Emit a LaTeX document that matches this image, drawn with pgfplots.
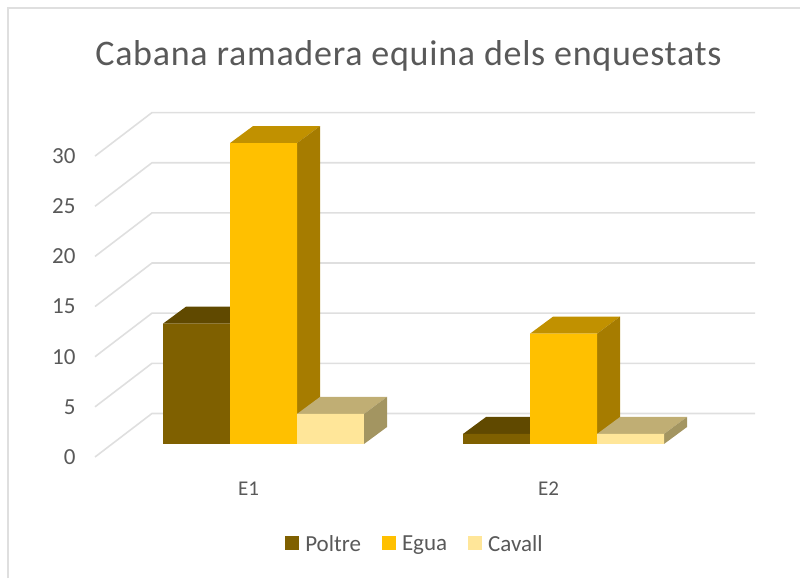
\documentclass[border=0pt]{standalone}
\usepackage{pgfplots}
\pgfplotsset{compat=1.18}
\usepackage{fontspec}
\setmainfont{Carlito}
\definecolor{txt}{HTML}{595959}
\definecolor{gridc}{HTML}{DFDFDF}
\definecolor{pf}{HTML}{7F6000}\definecolor{pt}{HTML}{604900}\definecolor{ps}{HTML}{4F3C00}
\definecolor{ef}{HTML}{FFC000}\definecolor{et}{HTML}{C19100}\definecolor{es}{HTML}{A67C00}
\definecolor{cf}{HTML}{FFE699}\definecolor{ct}{HTML}{C0AE74}\definecolor{cs}{HTML}{A39561}
\begin{document}
\begin{tikzpicture}[x=1pt,y=1pt]
\draw[gridc,line width=1.5pt] (8,0)--(8,570)--(800,570);
\begin{axis}[
  at={(95pt,121pt)},anchor=south west,
  scale only axis,width=660pt,height=351.05pt,
  xmin=-0.5617,xmax=1.6383,ymin=0,ymax=35,clip=false,
  axis line style={draw=none},tick style={draw=none},
  xtick={0,1},xticklabels={E1,E2},
  ytick={0,5,10,15,20,25,30},
  /pgf/number format/assume math mode=true,
  ticklabel style={font=\fontsize{23}{23}\selectfont,text=txt},
  xticklabel style={font=\fontsize{21}{21}\selectfont,text=txt,yshift=-21pt,xshift=-15pt},
  yticklabel style={xshift=-16pt},
  title={\addfontfeatures{LetterSpace=2}Cabana ramadera equina dels enquestats},
  title style={font=\fontsize{36}{36}\selectfont,text=txt,at={(0.475,1)},anchor=base,yshift=34pt},
  legend style={at={(320pt,-87pt)},anchor=center,draw=none,fill=none,legend columns=3,
    font=\fontsize{23}{23}\selectfont,text=txt,
    /tikz/every odd column/.style={column sep=4pt},
    /tikz/every even column/.style={column sep=19pt}},
  legend cell align=left,
  legend image code/.code={\fill[#1] (0pt,-19pt) rectangle (14pt,-5pt);},
  every axis plot/.append style={line join=miter},
]
% back wall grid lines and floor / side wall lines
\addplot[gridc,line width=1.6pt,forget plot] coordinates {(-0.5617,0)(-0.3717,4.34)(1.6383,4.34)};
\addplot[gridc,line width=1.6pt,forget plot] coordinates {(-0.5617,5)(-0.3717,9.34)(1.6383,9.34)};
\addplot[gridc,line width=1.6pt,forget plot] coordinates {(-0.5617,10)(-0.3717,14.34)(1.6383,14.34)};
\addplot[gridc,line width=1.6pt,forget plot] coordinates {(-0.5617,15)(-0.3717,19.34)(1.6383,19.34)};
\addplot[gridc,line width=1.6pt,forget plot] coordinates {(-0.5617,20)(-0.3717,24.34)(1.6383,24.34)};
\addplot[gridc,line width=1.6pt,forget plot] coordinates {(-0.5617,25)(-0.3717,29.34)(1.6383,29.34)};
\addplot[gridc,line width=1.6pt,forget plot] coordinates {(-0.5617,30)(-0.3717,34.34)(1.6383,34.34)};
% Poltre: top faces
\addplot[fill=pt,draw=none,yshift=13pt,forget plot] coordinates {(-0.335,12)(-0.1117,12)(-0.035,13.695)(-0.2583,13.695)} -- cycle;
\addplot[fill=pt,draw=none,yshift=13pt,forget plot] coordinates {(0.665,1)(0.8883,1)(0.965,2.695)(0.7417,2.695)} -- cycle;
% Poltre front
\addplot[ybar,bar width=0.2233,bar shift=-0.2233,fill=pf,draw=none,yshift=13pt] coordinates {(0,12)(1,1)};
\addlegendentry{Poltre}
% Egua: top and side faces
\addplot[fill=et,draw=none,yshift=13pt,forget plot] coordinates {(-0.1117,30)(0.1117,30)(0.1883,31.695)(-0.035,31.695)} -- cycle;
\addplot[fill=es,draw=none,yshift=13pt,forget plot] coordinates {(0.1117,0)(0.1883,1.695)(0.1883,31.695)(0.1117,30)} -- cycle;
\addplot[fill=et,draw=none,yshift=13pt,forget plot] coordinates {(0.8883,11)(1.1117,11)(1.1883,12.695)(0.965,12.695)} -- cycle;
\addplot[fill=es,draw=none,yshift=13pt,forget plot] coordinates {(1.1117,0)(1.1883,1.695)(1.1883,12.695)(1.1117,11)} -- cycle;
% Egua front
\addplot[ybar,bar width=0.2233,bar shift=0,fill=ef,draw=none,yshift=13pt] coordinates {(0,30)(1,11)};
\addlegendentry{Egua}
% Cavall: top and side faces
\addplot[fill=ct,draw=none,yshift=13pt,forget plot] coordinates {(0.1117,3)(0.335,3)(0.4117,4.695)(0.1883,4.695)} -- cycle;
\addplot[fill=cs,draw=none,yshift=13pt,forget plot] coordinates {(0.335,0)(0.4117,1.695)(0.4117,4.695)(0.335,3)} -- cycle;
\addplot[fill=ct,draw=none,yshift=13pt,forget plot] coordinates {(1.1117,1)(1.335,1)(1.4117,2.695)(1.1883,2.695)} -- cycle;
\addplot[fill=cs,draw=none,yshift=13pt,forget plot] coordinates {(1.335,0)(1.4117,1.695)(1.4117,2.695)(1.335,1)} -- cycle;
% Cavall front
\addplot[ybar,bar width=0.2233,bar shift=0.2233,fill=cf,draw=none,yshift=13pt] coordinates {(0,3)(1,1)};
\addlegendentry{Cavall}
\end{axis}
\pgfresetboundingbox
\path[use as bounding box] (0,0) rectangle (800,578);
\end{tikzpicture}
\end{document}
